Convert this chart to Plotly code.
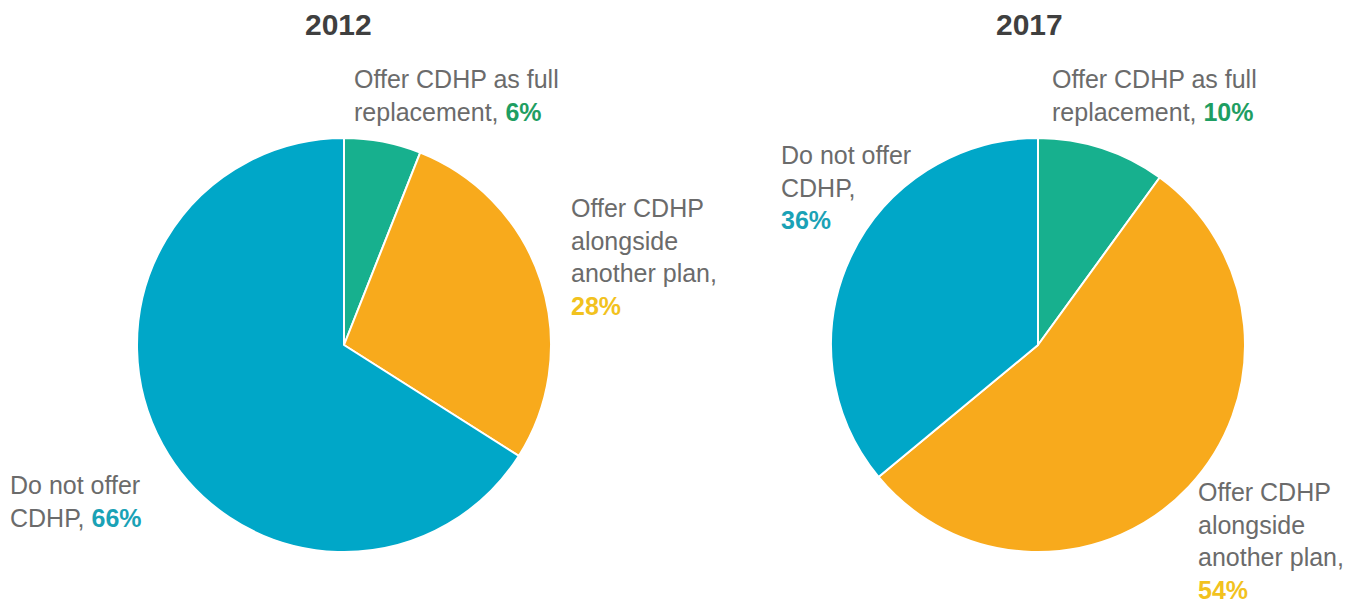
import plotly.graph_objects as go

# Share of firms offering a consumer-directed health plan (CDHP)
categories = ["Offer CDHP as full replacement",
              "Offer CDHP alongside another plan",
              "Do not offer CDHP"]
years = ["2012", "2017"]
values_2012 = [6, 28, 66]
values_2017 = [10, 54, 36]

slice_colors = ["#17b08e", "#f8aa1c", "#00a7c8"]
pct_colors = ["#1e9e62", "#f2c21e", "#1aa2b6"]

W, H = 1354, 605
FONT = "Liberation Sans, Arial, sans-serif"
TEXT_GRAY = "#6b6b6b"


def px_x(x):
    return x / W


def px_y(y):
    return 1 - y / H


def pie_domain(cx, cy, r):
    return dict(x=[px_x(cx - r), px_x(cx + r)],
                y=[px_y(cy + r), px_y(cy - r)])


fig = go.Figure()
for vals, (cx, cy) in zip([values_2012, values_2017], [(344, 345), (1038, 345)]):
    fig.add_trace(go.Pie(
        labels=categories, values=vals, sort=False, direction="clockwise",
        rotation=0, textinfo="none", hoverinfo="label+percent",
        marker=dict(colors=slice_colors, line=dict(color="white", width=2)),
        domain=pie_domain(cx, cy, 207), showlegend=False,
    ))


def pct(v, i):
    return f"<span style='color:{pct_colors[i]}'><b>{v}%</b></span>"


# (text, left x px, vertical centre px)
labels = [
    (f"Offer CDHP as full<br>replacement, {pct(values_2012[0], 0)}", 352, 95),
    (f"Offer CDHP<br>alongside<br>another plan,<br>{pct(values_2012[1], 1)}", 569, 257),
    (f"Do not offer<br>CDHP, {pct(values_2012[2], 2)}", 8, 501),
    (f"Offer CDHP as full<br>replacement, {pct(values_2017[0], 0)}", 1050, 96),
    (f"Do not offer<br>CDHP,<br>{pct(values_2017[2], 2)}", 779, 187),
    (f"Offer CDHP<br>alongside<br>another plan,<br>{pct(values_2017[1], 1)}", 1196, 541),
]

annotations = []
for text, x, y in labels:
    annotations.append(dict(
        text=text, x=px_x(x), y=px_y(y), xref="paper", yref="paper",
        xanchor="left", yanchor="middle", align="left", showarrow=False,
        font=dict(family=FONT, size=25, color=TEXT_GRAY),
    ))

for year, cx in zip(years, [338, 1029]):
    annotations.append(dict(
        text=f"<b>{year}</b>", x=px_x(cx), y=px_y(24), xref="paper", yref="paper",
        xanchor="center", yanchor="middle", showarrow=False,
        font=dict(family=FONT, size=30, color="#3f3f3f"),
    ))

fig.update_layout(
    width=W, height=H, margin=dict(l=0, r=0, t=0, b=0),
    paper_bgcolor="white", plot_bgcolor="white",
    annotations=annotations, font=dict(family=FONT),
)

fig.write_html("out.html")
